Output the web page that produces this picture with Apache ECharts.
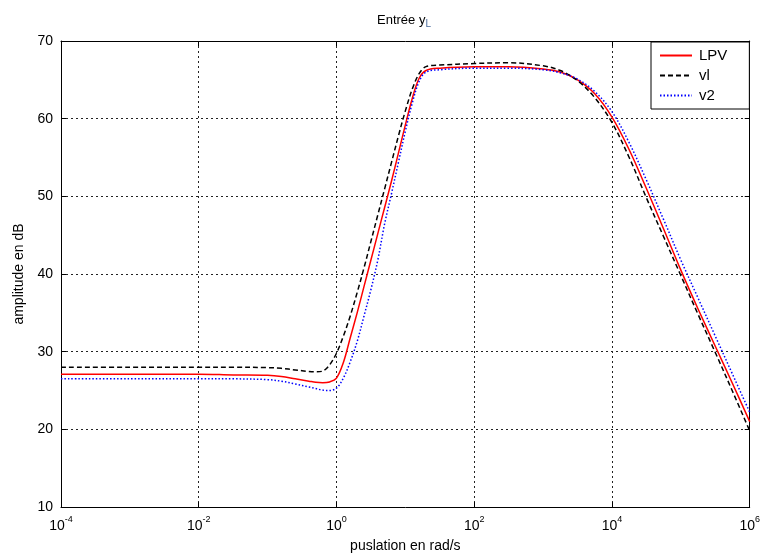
<!DOCTYPE html>
<html>
<head>
<meta charset="utf-8">
<script src="https://cdn.jsdelivr.net/npm/echarts@6/dist/echarts.min.js"></script>
<style>
html,body{margin:0;padding:0;background:#fff;}
#chart{width:763px;height:558px;}
</style>
</head>
<body>
<div id="chart"></div>
<script>
// x positions: exponent of the pulsation (log10 of rad/s)
const logW = [-4, -3, -2, -1.5, -1, -0.8, -0.6, -0.4, -0.3, -0.2, -0.1, 0, 0.1, 0.2, 0.3, 0.4, 0.5, 0.6, 0.7, 0.8, 0.9, 1.0, 1.1, 1.2, 1.3, 1.5, 2, 2.5, 3, 3.25, 3.5, 3.75, 4, 4.25, 4.5, 4.75, 5, 5.25, 5.5, 5.75, 6];
const lpv = [27.1, 27.1, 27.1, 27.0, 26.95, 26.8, 26.5, 26.2, 26.05, 26.0, 26.1, 26.6, 28.6, 31.8, 35.0, 38.4, 41.8, 45.2, 48.6, 52.0, 55.6, 59.2, 62.6, 65.2, 66.2, 66.5, 66.7, 66.7, 66.4, 66.0, 65.0, 63.2, 60.2, 56.0, 51.0, 45.8, 40.5, 35.5, 30.7, 25.9, 21.0];
const vl  = [28.0, 28.0, 28.0, 28.0, 27.95, 27.85, 27.65, 27.45, 27.4, 27.5, 28.3, 29.8, 32.0, 34.6, 37.6, 40.8, 44.2, 47.6, 51.0, 54.4, 57.8, 61.0, 63.8, 65.8, 66.7, 66.9, 67.1, 67.2, 66.8, 66.2, 64.9, 62.7, 59.5, 55.0, 49.8, 44.8, 39.8, 34.8, 29.9, 24.9, 19.8];
const v2  = [26.5, 26.5, 26.5, 26.5, 26.4, 26.2, 25.85, 25.45, 25.25, 25.05, 25.0, 25.3, 26.6, 28.7, 31.3, 34.6, 38.0, 41.8, 46.5, 50.4, 54.4, 58.4, 62.0, 64.8, 66.0, 66.3, 66.5, 66.5, 66.3, 65.9, 65.1, 63.5, 60.9, 56.9, 52.1, 47.0, 41.8, 36.9, 32.0, 27.1, 22.2];
const seriesNames = ['LPV', 'vl', 'v2'];
const xTicks = [-4, -2, 0, 2, 4, 6];
const yTicks = [10, 20, 30, 40, 50, 60, 70];

const FONT = "'Liberation Sans', Arial, sans-serif";
const chart = echarts.init(document.getElementById('chart'), null, {renderer: 'canvas'});
const pair = arr => logW.map((x, i) => [x, arr[i]]);

const gridLine = {show: true, lineStyle: {color: '#222', type: [2, 3], width: 1}};
const axisLineStyle = {show: true, onZero: false, lineStyle: {color: '#000', width: 1}};
const tickIn = {show: true, inside: true, length: 5, lineStyle: {color: '#000'}};

const option = {
  backgroundColor: '#fff',
  animation: false,
  title: {
    text: '{a|Entrée y}{s|L}',
    left: 372, top: 6,
    textStyle: {
      fontWeight: 'normal',
      rich: {
        a: {fontFamily: FONT, fontSize: 13, fontWeight: 'normal', color: '#000', lineHeight: 18},
        s: {fontFamily: FONT, fontSize: 10, fontWeight: 'normal', color: '#4a6a9a', verticalAlign: 'bottom', lineHeight: 18, padding: [8, 0, 0, 0]}
      }
    }
  },
  legend: {
    orient: 'vertical',
    left: 651, top: 42,
    backgroundColor: '#fff',
    borderColor: '#000', borderWidth: 1, borderRadius: 0,
    padding: [6, 22, 6, 8],
    itemWidth: 32, itemHeight: 14, itemGap: 5,
    itemStyle: {opacity: 0},
    textStyle: {fontFamily: FONT, fontSize: 15, color: '#000', padding: [0, 0, 0, 2]},
    data: seriesNames
  },
  grid: {left: 61, right: 10, top: 41, bottom: 50, containLabel: false},
  xAxis: [{
    type: 'value', min: -4, max: 6, interval: 2,
    name: 'puslation en rad/s', nameLocation: 'middle', nameGap: 32,
    nameTextStyle: {fontFamily: FONT, fontSize: 14, color: '#000'},
    axisLine: axisLineStyle, axisTick: tickIn, splitLine: gridLine,
    axisLabel: {
      margin: 8,
      formatter: v => xTicks.indexOf(v) >= 0 ? '{b|10}{s|' + v + '}' : '',
      rich: {
        b: {fontFamily: FONT, fontSize: 14, color: '#000', verticalAlign: 'bottom', lineHeight: 18},
        s: {fontFamily: FONT, fontSize: 9, color: '#000', verticalAlign: 'top', lineHeight: 18, padding: [0, 0, 6, 0]}
      }
    }
  }, {
    type: 'value', min: -4, max: 6, interval: 2, position: 'top',
    axisLine: axisLineStyle, axisTick: tickIn, axisLabel: {show: false}, splitLine: {show: false}
  }],
  yAxis: [{
    type: 'value', min: 10, max: 70, interval: 10,
    name: 'amplitude en dB', nameLocation: 'middle', nameGap: 34, nameRotate: 90,
    nameTextStyle: {fontFamily: FONT, fontSize: 14, color: '#000'},
    axisLine: axisLineStyle, axisTick: tickIn, splitLine: gridLine,
    axisLabel: {fontFamily: FONT, fontSize: 14, color: '#000', margin: 8,
      formatter: v => yTicks.indexOf(v) >= 0 ? String(v) : ''}
  }, {
    type: 'value', min: 10, max: 70, interval: 10, position: 'right',
    axisLine: axisLineStyle, axisTick: tickIn, axisLabel: {show: false}, splitLine: {show: false}
  }],
  series: [{
    name: seriesNames[0], type: 'line', data: pair(lpv), symbol: 'none', smooth: 0.35,
    xAxisIndex: 0, yAxisIndex: 0,
    lineStyle: {color: '#ff0000', width: 1.5, type: 'solid'}, itemStyle: {color: '#ff0000'}
  }, {
    name: seriesNames[1], type: 'line', data: pair(vl), symbol: 'none', smooth: 0.35,
    xAxisIndex: 0, yAxisIndex: 0,
    lineStyle: {color: '#000000', width: 1.5, type: [5, 3]}, itemStyle: {color: '#000000'}
  }, {
    name: seriesNames[2], type: 'line', data: pair(v2), symbol: 'none', smooth: 0.35,
    xAxisIndex: 0, yAxisIndex: 0,
    lineStyle: {color: '#0000ff', width: 1.5, type: [1.5, 2]}, itemStyle: {color: '#0000ff'}
  }]
};
chart.setOption(option);
</script>
</body>
</html>
